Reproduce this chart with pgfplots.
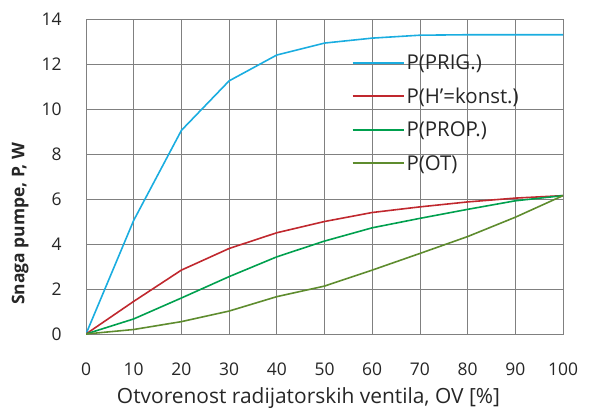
\documentclass[border=0pt]{standalone}
\usepackage{fontspec}
\setmainfont{Open Sans}
\usepackage{pgfplots}
\pgfplotsset{compat=1.18}
\definecolor{cblue}{HTML}{1AADE0}
\definecolor{cred}{HTML}{C0282E}
\definecolor{cgreen}{HTML}{00A04E}
\definecolor{colive}{HTML}{5E8C2E}
\definecolor{cgrid}{HTML}{808080}

\begin{document}
\begin{tikzpicture}[x=1bp, y=1bp]
% frame of the page: 590 x 410
\path[use as bounding box] (0,0) rectangle (590,410);
\begin{axis}[
    at={(86bp,76bp)}, anchor=south west,
    width=477bp, height=315bp, scale only axis,
    xmin=0, xmax=100, ymin=0, ymax=14,
    xtick={0,10,...,100}, ytick={0,2,...,14},
    grid=major,
    grid style={cgrid, line width=0.7pt},
    axis line style={cgrid, line width=0.7pt},
    tick style={draw=none},
    tick label style={font=\fontsize{17.5}{20}\selectfont, text=black!85},
    /pgf/number format/assume math mode=true,
    xticklabel style={yshift=-25bp},
    yticklabel style={xshift=-21bp},
    xlabel={Otvorenost radijatorskih ventila, OV [\%]},
    ylabel={\bfseries Snaga pumpe, P, W},
    xlabel style={font=\fontsize{21}{23}\selectfont, text=black!85, yshift=-5bp, xshift=-16bp},
    ylabel style={font=\fontsize{17.5}{19}\selectfont, text=black!85,
      at={(axis description cs:-0.138,0.35)}, anchor=center},
    legend style={draw=none, fill=none, at={(axis cs:55,12.6)}, anchor=north west,
      font=\fontsize{20.5}{22}\selectfont, text=black!85,
      row sep=13bp},
    legend cell align=left,
    legend image code/.code={\draw[#1, line width=2pt] (0bp,0bp) -- (51bp,0bp);},
  ]
  \addplot[cblue, line width=1.6pt] coordinates {
    (0,0) (10,5.05) (20,9.05) (30,11.25) (40,12.4) (50,12.93) (60,13.15)
    (70,13.28) (80,13.3) (90,13.3) (100,13.3)
  };
  \addlegendentry{P(PRIG.)}
  \addplot[cred, line width=1.6pt] coordinates {
    (0,0) (10,1.45) (20,2.84) (30,3.8) (40,4.5) (50,5.0) (60,5.4)
    (70,5.65) (80,5.87) (90,6.04) (100,6.15)
  };
  \addlegendentry{P(H'=konst.)}
  \addplot[cgreen, line width=1.6pt] coordinates {
    (0,0) (10,0.67) (20,1.6) (30,2.55) (40,3.43) (50,4.13) (60,4.72)
    (70,5.14) (80,5.54) (90,5.92) (100,6.15)
  };
  \addlegendentry{P(PROP.)}
  \addplot[colive, line width=1.6pt] coordinates {
    (0,0) (10,0.2) (20,0.55) (30,1.02) (40,1.66) (50,2.13) (60,2.84)
    (70,3.58) (80,4.33) (90,5.19) (100,6.15)
  };
  \addlegendentry{P(OT)}
\end{axis}
\end{tikzpicture}
\end{document}
